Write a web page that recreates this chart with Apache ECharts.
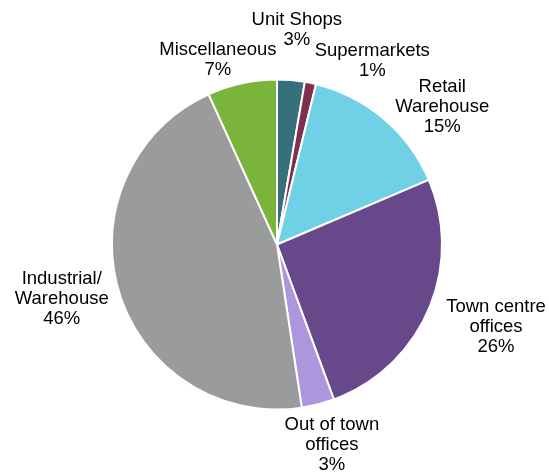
<!DOCTYPE html>
<html>
<head>
<meta charset="utf-8">
<script src="https://cdn.jsdelivr.net/npm/echarts@6/dist/echarts.min.js"></script>
<style>
html,body{margin:0;padding:0;background:#fff;}
#chart{width:549px;height:472px;}
</style>
</head>
<body>
<div id="chart"></div>
<script>
// Data (share of total, %)
const categories = ['Unit Shops', 'Supermarkets', 'Retail\nWarehouse', 'Town centre\noffices', 'Out of town\noffices', 'Industrial/\nWarehouse', 'Miscellaneous'];
const values = [2.7, 1.1, 14.8, 25.8, 3.2, 45.6, 6.8];
const labelPercents = [3, 1, 15, 26, 3, 46, 7];

// Styling
const colors = ['#36707a', '#7f2f4f', '#70d0e6', '#67488a', '#ad96dc', '#9a9b9c', '#7ab43b'];
// Label placement: angular shift (deg) from slice middle and distance from pie centre (px)
const labelAngleShift = [0.4, 15.7, 9.9, -2.8, -0.9, 2.4, -5.5];
const labelRadius = [216, 207, 215, 234, 208, 222, 194];

const center = [277, 244.5];
const radius = 165;

const total = values.reduce((a, b) => a + b, 0);
const midAngles = [];
let acc = 0;
values.forEach(v => { midAngles.push((acc + v / 2) / total * 360); acc += v; });

const chart = echarts.init(document.getElementById('chart'), null, {renderer: 'canvas'});
chart.setOption({
  animation: false,
  backgroundColor: '#ffffff',
  series: [{
    type: 'pie',
    center: center,
    radius: radius,
    startAngle: 90,
    clockwise: true,
    avoidLabelOverlap: false,
    data: categories.map((c, i) => ({name: c, value: values[i], itemStyle: {color: colors[i]}})),
    itemStyle: {borderColor: '#ffffff', borderWidth: 2},
    label: {
      show: true,
      position: 'outside',
      formatter: p => p.name + '\n' + labelPercents[p.dataIndex] + '%',
      fontFamily: 'Liberation Sans, Arial, sans-serif',
      fontSize: 18.5,
      lineHeight: 20,
      color: '#000000'
    },
    labelLine: {show: false},
    labelLayout: function (params) {
      const i = params.dataIndex;
      const a = (midAngles[i] + labelAngleShift[i]) * Math.PI / 180;
      return {
        x: center[0] + labelRadius[i] * Math.sin(a),
        y: center[1] - labelRadius[i] * Math.cos(a),
        align: 'center',
        verticalAlign: 'middle'
      };
    },
    emphasis: {disabled: true}
  }]
});
</script>
</body>
</html>
